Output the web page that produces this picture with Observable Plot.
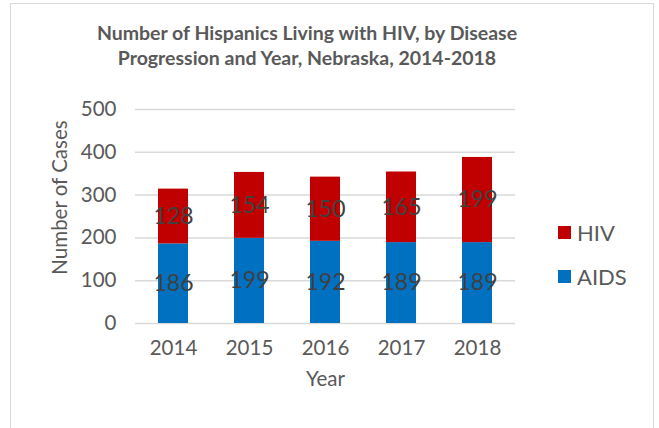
<!DOCTYPE html>
<html>
<head>
<meta charset="utf-8">
<script src="https://cdn.jsdelivr.net/npm/d3@7"></script>
<script src="https://cdn.jsdelivr.net/npm/@observablehq/plot@0.6"></script>
<style>
  html, body { margin: 0; padding: 0; background: #fff; width: 659px; height: 428px; overflow: hidden; }
  #frame { position: absolute; left: 10px; top: 3px; width: 644px; height: 440px; border: 1.5px solid #d9d9d9; box-sizing: border-box; }
  #title { position: absolute; left: 0; top: 20px; width: 614px; text-align: center; font-family: Lato, sans-serif; font-weight: bold; font-size: 19.5px; line-height: 25px; color: #595959; }
  #chart { position: absolute; left: 0; top: 80px; }
  .leg { position: absolute; left: 558px; font-family: Lato, sans-serif; font-size: 22px; color: #595959; display: flex; align-items: center; }
  .leg span.sw { display: inline-block; width: 13px; height: 13px; margin-right: 6px; }
</style>
</head>
<body>
<div id="frame"></div>
<div id="title">Number of Hispanics Living with HIV, by Disease<br>Progression and Year, Nebraska, 2014-2018</div>
<div id="chart"></div>
<div class="leg" style="top:219px"><span class="sw" style="background:#C00000"></span>HIV</div>
<div class="leg" style="top:263px"><span class="sw" style="background:#0070C0"></span>AIDS</div>
<script>
const years = ["2014", "2015", "2016", "2017", "2018"];
const aids = [186, 199, 192, 189, 189];
const hiv = [128, 154, 150, 165, 199];
const series = ["AIDS", "HIV"];
const colors = ["#0070C0", "#C00000"];
const yTicks = [0, 100, 200, 300, 400, 500];

const rows = years.flatMap((yr, i) => [
  {year: yr, status: "AIDS", value: aids[i]},
  {year: yr, status: "HIV", value: hiv[i]}
]);

const chart = Plot.plot({
  width: 659,
  height: 348,
  marginLeft: 135,
  marginRight: 144,
  marginTop: 29,
  marginBottom: 105,
  style: {fontFamily: "Lato, sans-serif", fontSize: "20.5px", color: "#595959", background: "transparent"},
  x: {domain: years, paddingInner: 0.6, paddingOuter: 0.3, label: null, tickSize: 0, tickPadding: 17},
  y: {domain: [0, 500], ticks: yTicks, label: null, tickSize: 0, tickPadding: 19},
  color: {domain: series, range: colors},
  marks: [
    Plot.gridY(yTicks, {stroke: "#d9d9d9", strokeOpacity: 1, strokeWidth: 1.5}),
    Plot.barY(rows, {x: "year", y: "value", fill: "status", order: series}),
    Plot.text(rows, Plot.stackY({x: "year", y: "value", z: "status", order: series, text: "value", fill: "#404040", fontSize: 23})),
    Plot.text(["Number of Cases"], {frameAnchor: "left", textAnchor: "middle", rotate: -90, dx: -75, dy: -19, fill: "#595959", fontSize: 20.5}),
    Plot.text(["Year"], {frameAnchor: "bottom", dy: 62, fill: "#595959", fontSize: 20.5})
  ]
});
document.getElementById("chart").appendChild(chart);
</script>
</body>
</html>
